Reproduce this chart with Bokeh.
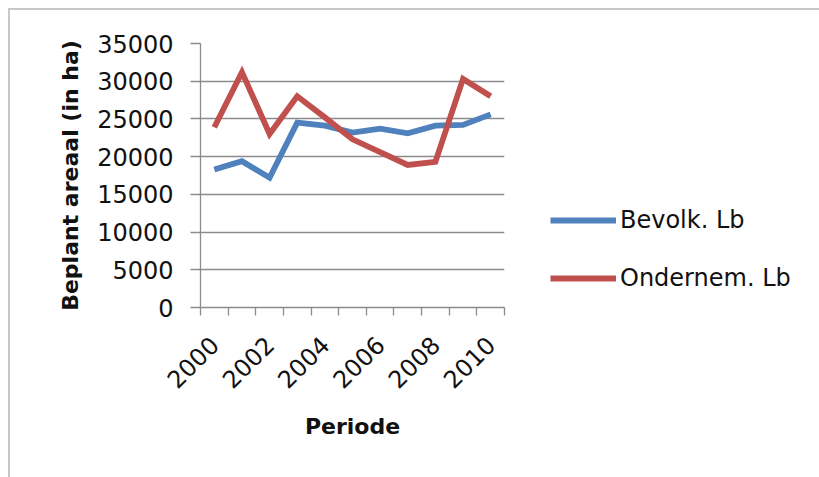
from bokeh.plotting import figure
from bokeh.models import Range1d, FixedTicker, Legend, LegendItem
from bokeh.embed import file_html
from bokeh.resources import INLINE

# Planted area per year (ha)
years = list(range(2000, 2011))
bevolk = [18300, 19400, 17200, 24500, 24100, 23200, 23700, 23100, 24100, 24200, 25600]
ondernem = [23900, 31200, 23000, 28000, 25200, 22300, 20600, 18900, 19300, 30300, 28000]
series_names = ["Bevolk. Lb", "Ondernem. Lb"]
series_colors = ["#4F81BD", "#C0504D"]

y_ticks = [0, 5000, 10000, 15000, 20000, 25000, 30000, 35000]
x_label_years = [2000, 2002, 2004, 2006, 2008, 2010]

FONT = "DejaVu Sans"
GRAY = "#8c8c8c"
BORDER = "#c8c8c8"

p = figure(frame_width=304, frame_height=264, output_backend="svg", toolbar_location=None,
           x_range=Range1d(years[0] - 0.5, years[-1] + 0.5),
           y_range=Range1d(y_ticks[0], y_ticks[-1]),
           min_border_left=200, min_border_right=0,
           min_border_top=43, min_border_bottom=170)
p.background_fill_color = "white"
p.border_fill_alpha = 0
p.outline_line_color = None
# chart-area border: thin lines along the top and left, behind a transparent canvas border
p.styles = {
    "background": (f"linear-gradient({BORDER}, {BORDER}) 8px 8px / 2px 100% no-repeat, "
                   f"linear-gradient({BORDER}, {BORDER}) 8px 8px / 100% 2px no-repeat, white"),
}

renderers = []
for vals, color in zip([bevolk, ondernem], series_colors):
    r = p.line(years, vals, line_color=color, line_width=5.8, line_join="miter")
    renderers.append(r)

# x axis: category boundaries as tick marks, labels on every other year
boundaries = [y - 0.5 for y in years] + [years[-1] + 0.5]
p.xaxis.ticker = FixedTicker(ticks=x_label_years, minor_ticks=boundaries)
p.xaxis.major_tick_out = 0
p.xaxis.major_tick_in = 0
p.xaxis.minor_tick_out = 8
p.xaxis.minor_tick_in = 0
p.xaxis.minor_tick_line_color = GRAY
p.xaxis.minor_tick_line_width = 1.3
p.xaxis.major_label_orientation = 0.785398
p.xaxis.major_label_standoff = 25
p.xaxis.axis_label = "Periode"
p.xaxis.axis_label_standoff = 15

p.yaxis.ticker = FixedTicker(ticks=y_ticks, minor_ticks=[])
p.yaxis.major_tick_out = 10
p.yaxis.major_tick_in = 0
p.yaxis.major_tick_line_color = GRAY
p.yaxis.major_tick_line_width = 1.3
p.yaxis.minor_tick_line_color = None
p.yaxis.major_label_standoff = 17
p.yaxis.axis_label = "Beplant areaal (in ha)"
p.yaxis.axis_label_standoff = 11

for ax in (p.xaxis[0], p.yaxis[0]):
    ax.axis_line_color = GRAY
    ax.axis_line_width = 1.3
    ax.major_label_text_font = FONT
    ax.major_label_text_font_size = "24px"
    ax.major_label_text_color = "#111111"
    ax.axis_label_text_font = FONT
    ax.axis_label_text_font_size = "22px"
    ax.axis_label_text_font_style = "bold"
    ax.axis_label_text_color = "#111111"

p.xgrid.grid_line_color = None
p.ygrid.ticker = FixedTicker(ticks=y_ticks)
p.ygrid.grid_line_color = GRAY
p.ygrid.grid_line_width = 1.3

# legend beside the plot; a blank title pushes the entries down
legend = Legend(
    items=[LegendItem(label=n, renderers=[r]) for n, r in zip(series_names, renderers)],
    location="top_left", orientation="vertical",
    title=" ", title_text_font_size="22px", title_standoff=91,
    glyph_width=66, glyph_height=24, label_height=24, spacing=30,
    label_standoff=4, padding=0, margin=46,
    border_line_color=None, background_fill_alpha=0,
    label_text_font=FONT, label_text_font_size="24px", label_text_color="#111111",
)
p.add_layout(legend, "right")

html = file_html(p, INLINE)
html = html.replace("<head>", "<head><style>html, body {margin: 0; overflow: hidden;}</style>", 1)
open("out.html", "w").write(html)
